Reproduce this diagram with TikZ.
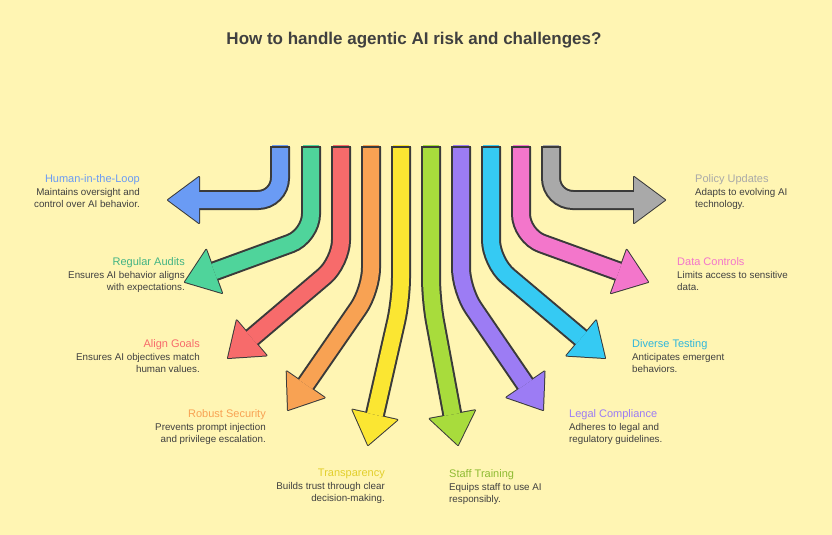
\documentclass[tikz,border=0pt]{standalone}
\usepackage{fontspec}
\setmainfont{Liberation Sans}
\usetikzlibrary{calc}
\definecolor{bgyel}{HTML}{FFF5B3}
\definecolor{txtgray}{HTML}{404040}
\definecolor{outl}{HTML}{3A3A3A}
\definecolor{cblue}{HTML}{6A9BF4}
\definecolor{cgreen}{HTML}{4FD49B}
\definecolor{cred}{HTML}{F76B6B}
\definecolor{corange}{HTML}{F8A253}
\definecolor{cyellow}{HTML}{FBE632}
\definecolor{clime}{HTML}{A8DC3C}
\definecolor{cpurple}{HTML}{9C7CF4}
\definecolor{ccyan}{HTML}{35CAF3}
\definecolor{cpink}{HTML}{F376CB}
\definecolor{cgray}{HTML}{A9A9A9}
\tikzset{
  band out/.style={line width=20pt, draw=outl, rounded corners=22pt},
  band in/.style={line width=16pt, draw=#1, rounded corners=22pt},
}
\newcommand{\lh}{\fontsize{11}{13}\selectfont}
\newcommand{\lb}{\fontsize{9.8}{12}\selectfont\color{txtgray}}
% colour, x of top, corner, tip
\newcommand{\agarrow}[4]{
  \coordinate (top) at (#2,147);
  \coordinate (crn) at (#3);
  \coordinate (tip) at (#4);
  \coordinate (bas) at ($(tip)!31pt!(crn)$);
  \coordinate (wl) at ($(bas)!23pt!90:(tip)$);
  \coordinate (wr) at ($(bas)!23pt!-90:(tip)$);
  \draw[band out] (top) -- (crn) -- (bas);
  \draw[line width=2pt, draw=outl, line join=round] (wl) -- (tip) -- (wr) -- cycle;
  \draw[band in=#1] ($(top)+(0,2pt)$) -- (crn) -- (bas);
  \fill[#1] (wl) -- (tip) -- (wr) -- cycle;
  \draw[line width=2pt, draw=outl] ($(top)+(-10pt,0)$) -- ($(top)+(10pt,0)$);
}
\begin{document}
\begin{tikzpicture}[x=1pt,y=-1pt]
\fill[bgyel] (0,0) rectangle (832,535);
\useasboundingbox (0,0) rectangle (832,535);
\node[font=\bfseries\fontsize{17}{20}\selectfont, text=txtgray] (title) at (414,40) {How to handle agentic AI risk and challenges?};

\agarrow{cblue}{280}{280,200}{168,200}
\agarrow{cgreen}{311}{311,236}{185,282}
\agarrow{cred}{341}{341,262}{228,358}
\agarrow{corange}{371}{371,290}{288,410}
\agarrow{cyellow}{401}{401,300}{368,445}
\agarrow{clime}{431}{431,300}{458,445}
\agarrow{cpurple}{461}{461,290}{543,410}
\agarrow{ccyan}{491}{491,262}{605,358}
\agarrow{cpink}{521}{521,236}{648,282}
\agarrow{cgray}{551}{551,200}{665,200}

% left labels
\node[anchor=north east, align=right, inner sep=0] (hl) at (140,174) {{\lh\color{cblue}Human-in-the-Loop}\\[1pt]{\lb Maintains oversight and}\\{\lb control over AI behavior.}};
\node[anchor=north east, align=right, inner sep=0] (ra) at (185,257) {{\lh\color{cgreen!85!black}Regular Audits}\\[1pt]{\lb Ensures AI behavior aligns}\\{\lb with expectations.}};
\node[anchor=north east, align=right, inner sep=0] (ag) at (200,339) {{\lh\color{cred}Align Goals}\\[1pt]{\lb Ensures AI objectives match}\\{\lb human values.}};
\node[anchor=north east, align=right, inner sep=0] (rs) at (266,409) {{\lh\color{corange}Robust Security}\\[1pt]{\lb Prevents prompt injection}\\{\lb and privilege escalation.}};
\node[anchor=north east, align=right, inner sep=0] (tr) at (385,469) {{\lh\color{cyellow!90!black}Transparency}\\[1pt]{\lb Builds trust through clear}\\{\lb decision-making.}};
% right labels
\node[anchor=north west, align=left, inner sep=0] (st) at (449,469) {{\lh\color{clime!85!black}Staff Training}\\[1pt]{\lb Equips staff to use AI}\\{\lb responsibly.}};
\node[anchor=north west, align=left, inner sep=0] (lc) at (569,409) {{\lh\color{cpurple}Legal Compliance}\\[1pt]{\lb Adheres to legal and}\\{\lb regulatory guidelines.}};
\node[anchor=north west, align=left, inner sep=0] (dt) at (632,339) {{\lh\color{ccyan!90!black}Diverse Testing}\\[1pt]{\lb Anticipates emergent}\\{\lb behaviors.}};
\node[anchor=north west, align=left, inner sep=0] (dc) at (677,257) {{\lh\color{cpink}Data Controls}\\[1pt]{\lb Limits access to sensitive}\\{\lb data.}};
\node[anchor=north west, align=left, inner sep=0] (pu) at (695,174) {{\lh\color{cgray}Policy Updates}\\[1pt]{\lb Adapts to evolving AI}\\{\lb technology.}};
\end{tikzpicture}
\end{document}
